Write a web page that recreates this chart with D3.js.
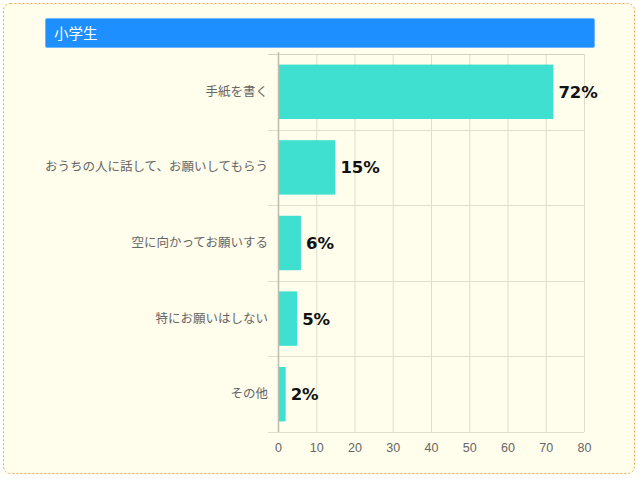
<!DOCTYPE html>
<html>
<head>
<meta charset="utf-8">
<script src="https://cdn.jsdelivr.net/npm/d3@7"></script>
<style>
  body { margin: 0; background: #fff; }
  svg { display: block; }
</style>
</head>
<body>
<svg id="chart" width="640" height="480"></svg>
<script>
// data
var title = "小学生";
var categories = ["手紙を書く", "おうちの人に話して、お願いしてもらう", "空に向かってお願いする", "特にお願いはしない", "その他"];
var values = [72, 15, 6, 5, 2];
var xTicks = [0, 10, 20, 30, 40, 50, 60, 70, 80];

var svg = d3.select("#chart");

// outer panel
svg.append("rect")
    .attr("x", 3.5).attr("y", 3.5)
    .attr("width", 631).attr("height", 470)
    .attr("rx", 7)
    .attr("fill", "#fffdec")
    .attr("stroke", "#eeaa44")
    .attr("stroke-dasharray", "2,2");

// title bar
svg.append("rect")
    .attr("x", 45.5).attr("y", 18.5)
    .attr("width", 549).attr("height", 29)
    .attr("rx", 1.5)
    .attr("fill", "#1e8fff")
    .attr("stroke", "#6fb6ff");
svg.append("text")
    .attr("x", 54).attr("y", 38.5)
    .attr("fill", "#fff")
    .attr("font-family", "'Noto Sans CJK JP', sans-serif")
    .attr("font-size", 14.5)
    .text(title);

var margin = {left: 278, right: 56, top: 54, bottom: 48};
var x = d3.scaleLinear().domain([0, 80]).range([margin.left, 640 - margin.right]);
var y = d3.scaleBand().domain(categories).range([margin.top, 480 - margin.bottom])
    .paddingInner(0.28).paddingOuter(0.14);

var g = svg.append("g");

// vertical gridlines
g.selectAll("line.vgrid")
    .data(xTicks)
    .enter().append("line")
    .attr("class", "vgrid")
    .attr("x1", d => x(d) + 0.5).attr("x2", d => x(d) + 0.5)
    .attr("y1", margin.top).attr("y2", 480 - margin.bottom)
    .attr("stroke", "#dfddcc");

// horizontal separators between categories
var bounds = categories.map(c => y(c) - y.step() * y.paddingInner() / 2);
bounds[0] = margin.top;
bounds.push(480 - margin.bottom);
g.selectAll("line.hgrid")
    .data(bounds)
    .enter().append("line")
    .attr("class", "hgrid")
    .attr("x1", margin.left - 10).attr("x2", 640 - margin.right)
    .attr("y1", d => Math.round(d) + 0.5).attr("y2", d => Math.round(d) + 0.5)
    .attr("stroke", "#dfddcc");

// top border a bit darker
g.append("line")
    .attr("x1", margin.left - 10).attr("x2", 640 - margin.right)
    .attr("y1", margin.top + 0.5).attr("y2", margin.top + 0.5)
    .attr("stroke", "#d3d1c0");

// bars
g.selectAll("rect.bar")
    .data(values)
    .enter().append("rect")
    .attr("class", "bar")
    .attr("x", x(0))
    .attr("y", (d, i) => y(categories[i]))
    .attr("width", d => x(d) - x(0))
    .attr("height", y.bandwidth())
    .attr("fill", "#40e0d0");

// y axis line
g.append("line")
    .attr("x1", x(0) + 0.5).attr("x2", x(0) + 0.5)
    .attr("y1", margin.top - 2).attr("y2", 480 - margin.bottom)
    .attr("stroke", "#bdbbae")
    .attr("stroke-width", 1.5);

// value labels
g.selectAll("text.val")
    .data(values)
    .enter().append("text")
    .attr("class", "val")
    .attr("x", d => x(d) + 5)
    .attr("y", (d, i) => y(categories[i]) + y.bandwidth() / 2 + 6)
    .attr("font-family", "'DejaVu Sans', Verdana, sans-serif")
    .attr("font-weight", "bold")
    .attr("font-size", 16.5)
    .attr("fill", "#111")
    .text(d => d + "%");

// category labels
g.selectAll("text.cat")
    .data(categories)
    .enter().append("text")
    .attr("class", "cat")
    .attr("x", margin.left - 10)
    .attr("y", d => y(d) + y.bandwidth() / 2 + 4)
    .attr("text-anchor", "end")
    .attr("font-family", "'Noto Sans CJK JP', sans-serif")
    .attr("font-size", 12.5)
    .attr("fill", "#666")
    .text(d => d);

// x tick labels
g.selectAll("text.tick")
    .data(xTicks)
    .enter().append("text")
    .attr("class", "tick")
    .attr("x", d => x(d) + 0.5)
    .attr("y", 480 - margin.bottom + 20)
    .attr("text-anchor", "middle")
    .attr("font-family", "'Liberation Sans', Arial, sans-serif")
    .attr("font-size", 12.5)
    .attr("fill", "#666")
    .text(d => d);
</script>
</body>
</html>
